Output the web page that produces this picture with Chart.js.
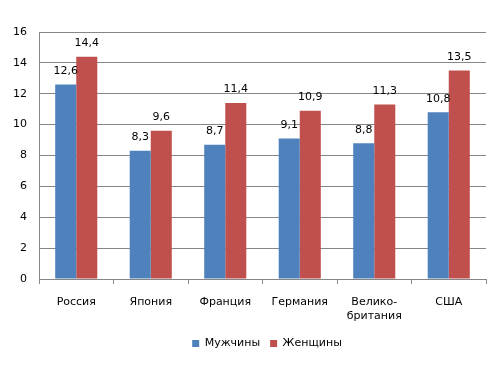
<!DOCTYPE html>
<html><head><meta charset="utf-8">
<script src="https://cdn.jsdelivr.net/npm/chart.js@4"></script>
<style>html,body{margin:0;padding:0;background:#fff}#w{width:500px;height:367px}</style>
</head><body><div id="w"><canvas id="c"></canvas></div>
<script>
const categories = ['Россия', 'Япония', 'Франция', 'Германия', ['Велико-', 'британия'], 'США'];
const men = [12.6, 8.3, 8.7, 9.1, 8.8, 10.8];
const women = [14.4, 9.6, 11.4, 10.9, 11.3, 13.5];
const seriesNames = ['Мужчины', 'Женщины'];
const yTicks = [0, 2, 4, 6, 8, 10, 12, 14, 16];

const FONT = 'DejaVu Sans';
const labelPlugin = {
  id: 'vals',
  afterLayout(chart) {
    if (chart.legend) { chart.legend.left += 24; chart.legend.right += 24; }
  },
  afterDatasetsDraw(chart) {
    const ctx = chart.ctx;
    ctx.save();
    ctx.font = '11px "' + FONT + '"';
    ctx.fillStyle = '#000';
    ctx.textAlign = 'center';
    ctx.textBaseline = 'bottom';
    chart.data.datasets.forEach((ds, i) => {
      chart.getDatasetMeta(i).data.forEach((bar, j) => {
        ctx.fillText(String(ds.data[j]).replace('.', ','), bar.x, bar.y - 8);
      });
    });
    ctx.restore();
  }
};

new Chart(document.getElementById('c'), {
  type: 'bar',
  data: {
    labels: categories,
    datasets: [
      { label: seriesNames[0], data: men, backgroundColor: '#4F81BD' },
      { label: seriesNames[1], data: women, backgroundColor: '#C0504D' }
    ]
  },
  options: {
    responsive: true, maintainAspectRatio: false, animation: false,
    devicePixelRatio: 1,
    layout: { padding: { top: 32, right: 14, bottom: 8, left: 0 } },
    datasets: { bar: { categoryPercentage: 0.565, barPercentage: 1 } },
    plugins: {
      legend: {
        position: 'bottom',
        labels: { boxWidth: 7, boxHeight: 7, padding: 10, color: '#000', font: { family: FONT, size: 11 } }
      },
      tooltip: { enabled: false }
    },
    scales: {
      x: {
        afterFit: s => { s.height = 49; },
        grid: { offset: true, drawOnChartArea: false, drawTicks: true, tickLength: 5, color: '#868686' },
        border: { color: '#868686' },
        ticks: { color: '#000', padding: 12, font: { family: FONT, size: 11 } }
      },
      y: {
        min: 0, max: 16,
        afterFit: s => { s.width = 39; },
        afterBuildTicks: s => { s.ticks = yTicks.map(v => ({ value: v })); },
        grid: { color: '#868686', drawTicks: false },
        border: { color: '#868686' },
        ticks: { color: '#000', padding: 12, font: { family: FONT, size: 11 } }
      }
    }
  },
  plugins: [labelPlugin]
});
</script></body></html>
